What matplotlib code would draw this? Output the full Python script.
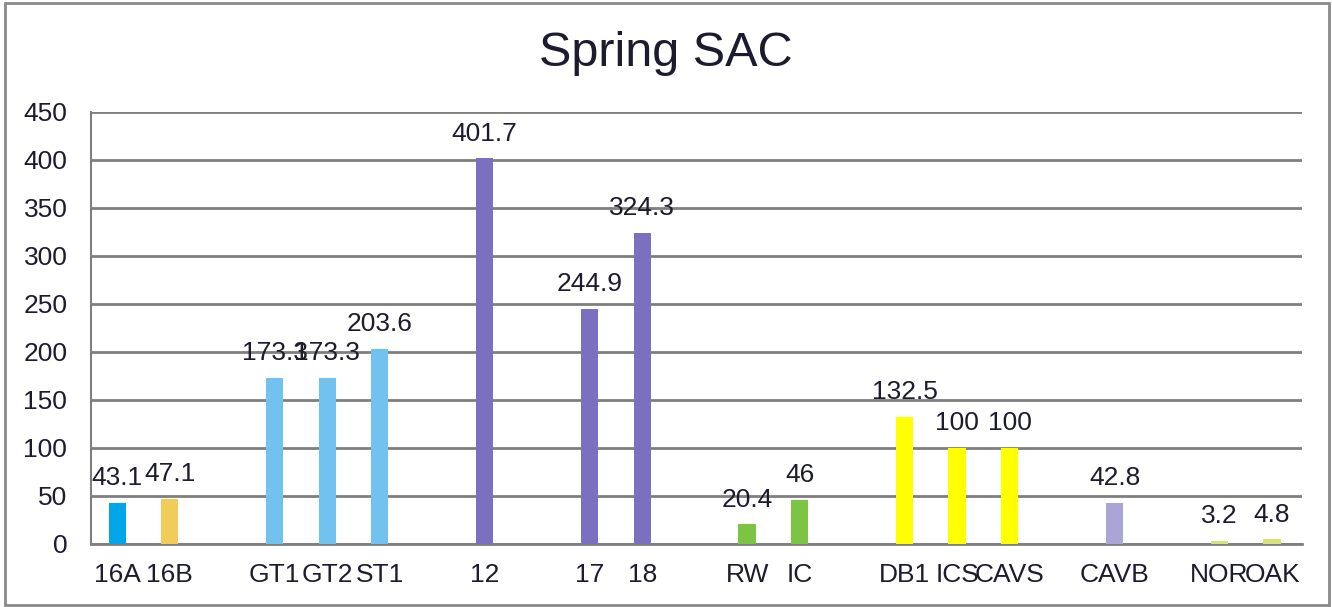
import matplotlib.pyplot as plt
from matplotlib.patches import Rectangle

plt.rcParams['font.family'] = ['Liberation Sans', 'DejaVu Sans']

# sites along the x axis ('' marks an empty slot between groups)
sites = ['16A', '16B', '', 'GT1', 'GT2', 'ST1', '', '12', '', '17', '18', '',
         'RW', 'IC', '', 'DB1', 'ICS', 'CAVS', '', 'CAVB', '', 'NOR', 'OAK']
values = [43.1, 47.1, None, 173.3, 173.3, 203.6, None, 401.7, None, 244.9, 324.3, None,
          20.4, 46, None, 132.5, 100, 100, None, 42.8, None, 3.2, 4.8]
labels = ['43.1', '47.1', '', '173.3', '173.3', '203.6', '', '401.7', '', '244.9', '324.3', '',
          '20.4', '46', '', '132.5', '100', '100', '', '42.8', '', '3.2', '4.8']
colors = ['#00a6e8', '#f2cc5a', None, '#72c2f0', '#72c2f0', '#72c2f0', None, '#7b70c0', None,
          '#7b70c0', '#7b70c0', None, '#7cc544', '#7cc544', None, '#ffff00', '#ffff00', '#ffff00',
          None, '#a9a5d6', None, '#d6e27a', '#d6e27a']

text_col = '#1c1c2e'

fig = plt.figure(figsize=(13.32, 6.07), dpi=100)
fig.patches.append(Rectangle((0.004, 0.003), 0.994, 0.992, transform=fig.transFigure,
                             fill=False, edgecolor='#8a8a8a', linewidth=2))
ax = fig.add_axes([0.0683, 0.1038, 0.9092, 0.7117])

xs = list(range(len(sites)))
for x, v, c, lab in zip(xs, values, colors, labels):
    if v is None:
        continue
    ax.bar(x, v, width=0.33, color=c, zorder=3)
    ax.annotate(lab, (x, v), xytext=(0, 9), textcoords='offset points',
                ha='center', va='bottom', fontsize=19, color=text_col, zorder=4)

ax.set_xlim(-0.5, 22.57)
ax.set_ylim(0, 450)
ax.set_yticks(range(0, 451, 50))
ax.set_xticks(xs)
ax.set_xticklabels(sites)
ax.yaxis.grid(True, color='#7f7f7f', linewidth=2, zorder=0)
ax.set_axisbelow(True)

for s in ['top', 'right']:
    ax.spines[s].set_visible(False)
ax.spines['left'].set_color('#7f7f7f')
ax.spines['bottom'].set_color('#7f7f7f')
ax.spines['bottom'].set_linewidth(2)
ax.spines['left'].set_linewidth(1.5)

ax.tick_params(axis='both', length=0, labelsize=19, labelcolor=text_col)
ax.tick_params(axis='y', pad=17)
ax.tick_params(axis='x', pad=14)

fig.text(0.5, 0.912, 'Spring SAC', ha='center', va='center', fontsize=35, color=text_col)

fig.savefig('out.png', dpi=100)
